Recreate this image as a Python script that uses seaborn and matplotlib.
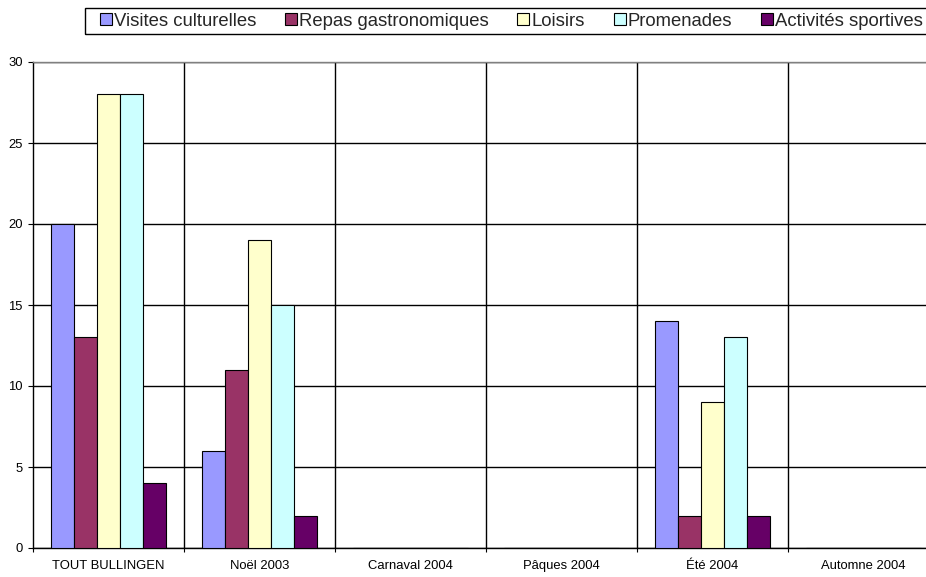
import matplotlib
matplotlib.use('Agg')
import matplotlib.pyplot as plt
import seaborn as sns
import pandas as pd
from matplotlib.patches import Rectangle

categories = ["TOUT BULLINGEN", "Noël 2003", "Carnaval 2004", "Pâques 2004", "Été 2004", "Automne 2004"]
series = ["Visites culturelles", "Repas gastronomiques", "Loisirs", "Promenades", "Activités sportives"]
visites = [20, 6, 0, 0, 14, 0]
repas = [13, 11, 0, 0, 2, 0]
loisirs = [28, 19, 0, 0, 9, 0]
promenades = [28, 15, 0, 0, 13, 0]
sportives = [4, 2, 0, 0, 2, 0]
colors = ["#9999FF", "#993366", "#FFFFCC", "#CCFFFF", "#660066"]
yticks = [0, 5, 10, 15, 20, 25, 30]

sns.set_theme(style='white')
plt.rcParams['font.family'] = ['Liberation Sans', 'DejaVu Sans']

values = [visites, repas, loisirs, promenades, sportives]
rows = []
for s, vals in zip(series, values):
    for c, v in zip(categories, vals):
        rows.append({"cat": c, "serie": s, "val": v})
df = pd.DataFrame(rows)

W, H = 926, 577
fig = plt.figure(figsize=(W / 100, H / 100), dpi=100)
ax = fig.add_axes([33 / W, 29 / H, 906 / W, 486 / H])

sns.barplot(data=df, x='cat', y='val', hue='serie', order=categories, hue_order=series,
            palette=colors, width=0.76, saturation=1, edgecolor='black', linewidth=0.8,
            ax=ax, zorder=3)

ax.set_xlim(-0.5, 5.5)
ax.set_ylim(0, 30)
ax.set_yticks(yticks)
ax.set_xlabel("")
ax.set_ylabel("")
ax.yaxis.grid(True, color='black', linewidth=1)
ax.set_axisbelow(True)
for b in [0.5, 1.5, 2.5, 3.5, 4.5]:
    ax.axvline(b, color='black', linewidth=1, zorder=1)

ax.set_xticks([i - 0.5 for i in range(7)], minor=True)
ax.tick_params(axis='x', which='major', length=0, pad=8.5, labelsize=9.4, colors='black')
ax.tick_params(axis='x', which='minor', bottom=True, length=3.2, width=0.8, color='black', direction='out')
ax.tick_params(axis='y', which='major', left=True, length=3.5, width=0.8, pad=4, labelsize=9.4,
               color='black', labelcolor='black', direction='out')

for side in ['left', 'bottom']:
    ax.spines[side].set_color('black')
    ax.spines[side].set_linewidth(1)
ax.spines['top'].set_color('#808080')
ax.spines['top'].set_linewidth(1)
ax.spines['right'].set_visible(False)

handles, labels = ax.get_legend_handles_labels()
if ax.get_legend() is not None:
    ax.get_legend().remove()
fig.legend(handles, labels, ncol=5, loc='center left', bbox_to_anchor=(100 / W, 1 - 21 / H),
           frameon=False, fontsize=13.3, handlelength=0.65, handleheight=0.65,
           handletextpad=0.1, columnspacing=1.56, borderpad=0, borderaxespad=0)
fig.patches.append(Rectangle((85 / W, 1 - 34 / H), 1, 26 / H, transform=fig.transFigure,
                             fill=False, edgecolor='black', linewidth=1))

fig.savefig('out.png', dpi=100)
